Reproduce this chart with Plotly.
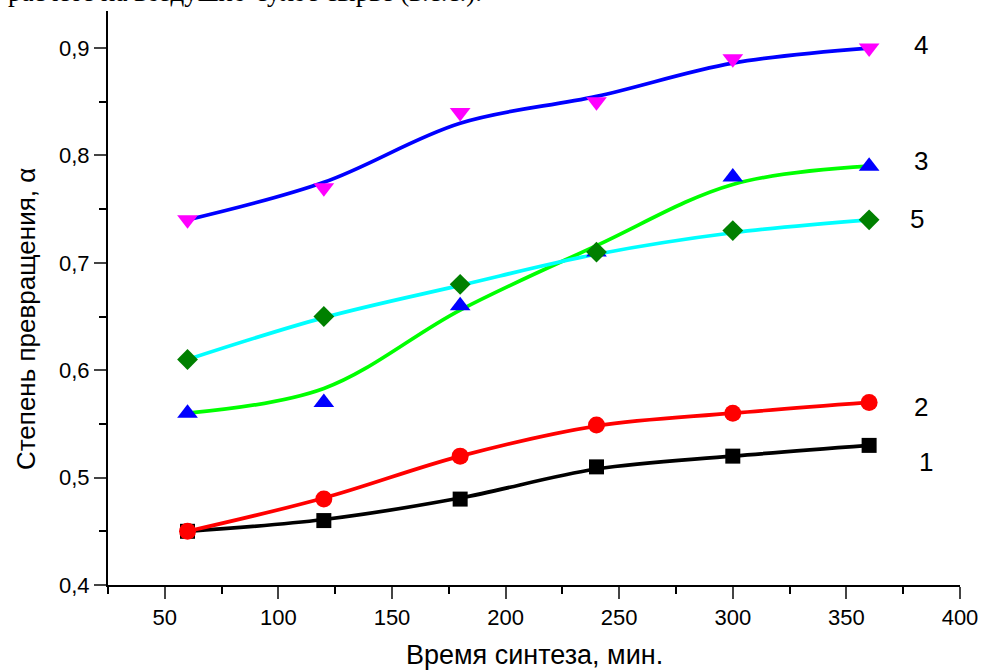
import plotly.graph_objects as go

# ---- data ----
time_min = [60, 120, 180, 240, 300, 360]

s1_points = [0.45, 0.46, 0.48, 0.51, 0.52, 0.53]
s2_points = [0.45, 0.48, 0.52, 0.549, 0.56, 0.57]
s3_points = [0.56, 0.57, 0.66, 0.71, 0.78, 0.79]
s4_points = [0.74, 0.77, 0.84, 0.85, 0.89, 0.90]
s5_points = [0.61, 0.65, 0.68, 0.71, 0.73, 0.74]

# smooth (fitted) curves at the same times
s1_curve = [0.45, 0.461, 0.481, 0.508, 0.52, 0.53]
s2_curve = [0.45, 0.481, 0.52, 0.548, 0.56, 0.57]
s3_curve = [0.56, 0.583, 0.656, 0.716, 0.773, 0.79]
s4_curve = [0.74, 0.775, 0.83, 0.855, 0.886, 0.90]
s5_curve = [0.61, 0.649, 0.679, 0.708, 0.728, 0.74]

labels = ["1", "2", "3", "4", "5"]
label_y = [0.515, 0.566, 0.795, 0.903, 0.741]
label_x = [385, 383, 383, 383, 381]

x_ticks = [50, 100, 150, 200, 250, 300, 350, 400]
y_ticks = [0.4, 0.5, 0.6, 0.7, 0.8, 0.9]
y_ticktext = ["0,4", "0,5", "0,6", "0,7", "0,8", "0,9"]

x_title = "Время синтеза, мин."
y_title = "Степень превращения, α"
top_text = "расчете на воздушно-сухое сырье (в.с.с.)."

# ---- styles ----
line_colors = ["#000000", "#FF0000", "#00FF00", "#0000FF", "#00FFFF"]
marker_colors = ["#000000", "#FF0000", "#0000FF", "#FF00FF", "#008000"]
marker_symbols = ["square", "circle", "triangle-up", "triangle-down", "diamond"]
marker_sizes = [15, 17, 18, 18, 16]

curves = [s1_curve, s2_curve, s3_curve, s4_curve, s5_curve]
points = [s1_points, s2_points, s3_points, s4_points, s5_points]

fig = go.Figure()

for c, col in zip(curves, line_colors):
    fig.add_trace(go.Scatter(
        x=time_min, y=c, mode="lines",
        line=dict(color=col, width=3.7, shape="spline", smoothing=1.0),
        showlegend=False, hoverinfo="skip"))

for p, col, sym, sz in zip(points, marker_colors, marker_symbols, marker_sizes):
    fig.add_trace(go.Scatter(
        x=time_min, y=p, mode="markers",
        marker=dict(color=col, symbol=sym, size=sz, line=dict(width=0)),
        showlegend=False))

FONT = "Arial, Liberation Sans, sans-serif"

for lab, lx, ly in zip(labels, label_x, label_y):
    fig.add_annotation(x=lx, y=ly, text=lab, showarrow=False,
                       font=dict(family=FONT, size=26, color="black"),
                       xanchor="center", yanchor="middle")

# axis titles
fig.add_annotation(xref="paper", yref="paper", x=0.5, y=-0.122, text=x_title,
                   showarrow=False, xanchor="center", yanchor="middle",
                   font=dict(family=FONT, size=27, color="black"))
fig.add_annotation(xref="paper", yref="paper", x=-0.0965, y=0.463, text=y_title,
                   showarrow=False, xanchor="center", yanchor="middle", textangle=-90,
                   font=dict(family=FONT, size=26, color="black"))

# cropped line of text from the page above
fig.add_annotation(xref="paper", yref="paper", x=-0.12, y=1.033, text=top_text,
                   showarrow=False, xanchor="left", yanchor="middle",
                   font=dict(family="Liberation Serif, Times New Roman, serif", size=27, color="black"))

fig.update_layout(
    width=989, height=671,
    margin=dict(l=108, r=21, t=11, b=86),
    paper_bgcolor="white", plot_bgcolor="white",
    font=dict(family=FONT, size=22, color="black"),
)

fig.update_xaxes(
    range=[25, 400], tickvals=x_ticks, ticks="outside", ticklen=12, tickwidth=2,
    showline=True, linewidth=2, linecolor="black", showgrid=False, zeroline=False,
    tickfont=dict(family=FONT, size=22, color="black"),
    minor=dict(tickvals=[25, 75, 125, 175, 225, 275, 325, 375], ticks="outside",
               ticklen=7, tickwidth=2, tickcolor="black"),
)
fig.update_yaxes(
    range=[0.4, 0.9345], tickvals=y_ticks, ticktext=y_ticktext, ticks="outside",
    ticklen=12, tickwidth=2,
    showline=True, linewidth=2, linecolor="black", showgrid=False, zeroline=False,
    tickfont=dict(family=FONT, size=22, color="black"),
    minor=dict(tickvals=[0.45, 0.55, 0.65, 0.75, 0.85], ticks="outside",
               ticklen=7, tickwidth=2, tickcolor="black"),
)

fig.write_html("out.html")
